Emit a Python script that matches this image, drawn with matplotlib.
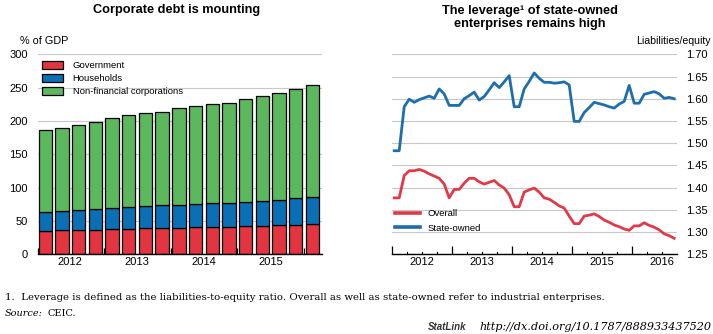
import matplotlib
matplotlib.use("Agg")
import matplotlib.pyplot as plt
from matplotlib.patches import Patch
from matplotlib.lines import Line2D
import numpy as np

plt.rcParams['font.family'] = ['Liberation Sans', 'DejaVu Sans']

# Left panel: debt by sector, % of GDP, quarterly 2012Q1-2016Q1
quarters = ['2012Q1', '2012Q2', '2012Q3', '2012Q4', '2013Q1', '2013Q2', '2013Q3', '2013Q4',
            '2014Q1', '2014Q2', '2014Q3', '2014Q4', '2015Q1', '2015Q2', '2015Q3', '2015Q4', '2016Q1']
government = [34.5, 36, 36, 36, 37.5, 37.5, 39, 39, 39, 40.5, 40.5, 40.5, 42, 42, 43.5, 43.5, 45]
households = [28.5, 29, 30.5, 32, 31.5, 33, 33, 34.5, 34.5, 35, 36.5, 36.5, 36.5, 38, 38, 40.5, 41]
nonfin_corps = [124, 125, 128, 131, 136, 139, 140.5, 140.5, 146.5, 147.5, 149, 150.5, 155, 158, 161, 164.5, 168.5]
left_years = ['2012', '2013', '2014', '2015']

# Right panel: liabilities/equity, monthly Jan 2012 - Sep 2016
overall = [1.377, 1.377, 1.427, 1.438, 1.438, 1.441, 1.437, 1.431, 1.426, 1.421, 1.408, 1.377,
           1.396, 1.396, 1.410, 1.421, 1.421, 1.413, 1.408, 1.412, 1.416, 1.406, 1.399, 1.384,
           1.357, 1.357, 1.390, 1.395, 1.399, 1.390, 1.377, 1.374, 1.367, 1.359, 1.354, 1.336,
           1.319, 1.319, 1.336, 1.338, 1.341, 1.335, 1.327, 1.322, 1.316, 1.312, 1.307, 1.304,
           1.314, 1.314, 1.321, 1.315, 1.311, 1.305, 1.296, 1.292, 1.286]
state_owned = [1.483, 1.483, 1.582, 1.599, 1.592, 1.598, 1.602, 1.606, 1.601, 1.622, 1.611, 1.585,
               1.585, 1.585, 1.600, 1.607, 1.615, 1.597, 1.605, 1.620, 1.636, 1.625, 1.638, 1.652,
               1.582, 1.582, 1.622, 1.639, 1.658, 1.646, 1.637, 1.637, 1.635, 1.636, 1.638, 1.631,
               1.549, 1.549, 1.569, 1.580, 1.592, 1.589, 1.586, 1.582, 1.579, 1.588, 1.594, 1.630,
               1.590, 1.590, 1.610, 1.613, 1.616, 1.611, 1.601, 1.603, 1.600]
right_years = ['2012', '2013', '2014', '2015', '2016']

RED = '#E3353F'
BLUE = '#0B6FB5'
GREEN = '#5CB85C'
LRED = '#E03A48'
LBLUE = '#1D6EAD'
GRID = '#C8C8C8'

W, H = 713, 334
fig = plt.figure(figsize=(W / 100, H / 100), dpi=100)


def px_axes(x0, y0, x1, y1):
    return fig.add_axes([x0 / W, 1 - y1 / H, (x1 - x0) / W, (y1 - y0) / H])


# ---- left panel ----
ax = px_axes(37.7, 54.3, 321.7, 254.3)
x = np.arange(len(quarters))
gov = np.array(government)
hh = np.array(households)
nfc = np.array(nonfin_corps)
ax.bar(x, gov, 0.8, color=RED, edgecolor='black', linewidth=0.9, zorder=3)
ax.bar(x, hh, 0.8, bottom=gov, color=BLUE, edgecolor='black', linewidth=0.9, zorder=3)
ax.bar(x, nfc, 0.8, bottom=gov + hh, color=GREEN, edgecolor='black', linewidth=0.9, zorder=3)
ax.set_xlim(-0.45, 16.55)
ax.set_ylim(0, 300)
ax.set_yticks(np.arange(0, 301, 50))
ax.grid(axis='y', color=GRID, linewidth=0.8, zorder=0)
for s in ['left', 'right', 'top']:
    ax.spines[s].set_visible(False)
ax.spines['bottom'].set_linewidth(1.0)
ax.spines['bottom'].set_zorder(4)
ax.set_xticks([-0.45, 3.5, 7.5, 11.5, 15.5])
ax.set_xticklabels([])
ax.set_xticks([1.5, 5.5, 9.5, 13.5], minor=True)
ax.set_xticklabels(left_years, minor=True)
ax.tick_params(axis='x', which='major', direction='in', length=4, width=0.9)
ax.tick_params(axis='x', which='minor', length=0, pad=2, labelsize=8)
ax.tick_params(axis='y', length=0, pad=7, labelsize=8)
handles = [Patch(facecolor=RED, edgecolor='black', linewidth=0.9),
           Patch(facecolor=BLUE, edgecolor='black', linewidth=0.9),
           Patch(facecolor=GREEN, edgecolor='black', linewidth=0.9)]
ax.legend(handles, ['Government', 'Households', 'Non-financial corporations'],
          loc='upper left', bbox_to_anchor=(0.0, 0.99), frameon=False, fontsize=6.8,
          handlelength=2.2, handleheight=1.0, labelspacing=0.35, handletextpad=1.0,
          borderaxespad=0.3, borderpad=0.2)

fig.text(177 / W, 1 - 10 / H, 'Corporate debt is mounting', ha='center', va='center',
         fontsize=9.2, fontweight='bold')
fig.text(20 / W, 1 - 40.5 / H, '% of GDP', ha='left', va='center', fontsize=7.8)

# ---- right panel ----
ax2 = px_axes(391.7, 54.3, 676.7, 254.3)
m = np.arange(len(overall))
ax2.plot(m, overall, color=LRED, linewidth=2.0, zorder=3)
ax2.plot(m, state_owned, color=LBLUE, linewidth=2.0, zorder=3)
ax2.set_xlim(-0.5, 56.5)
ax2.set_ylim(1.25, 1.70)
ax2.set_yticks(np.round(np.arange(1.25, 1.701, 0.05), 2))
ax2.set_yticklabels(['%.2f' % v for v in np.arange(1.25, 1.701, 0.05)])
ax2.yaxis.tick_right()
ax2.grid(axis='y', color=GRID, linewidth=0.8, zorder=0)
for s in ['left', 'right', 'top']:
    ax2.spines[s].set_visible(False)
ax2.spines['bottom'].set_linewidth(1.0)
ax2.spines['bottom'].set_zorder(4)
ax2.set_xticks([-0.5, 11.5, 23.5, 35.5, 47.5])
ax2.set_xticklabels([])
ax2.set_xticks([5.5, 17.5, 29.5, 41.5, 53.5], minor=True)
ax2.set_xticklabels(right_years, minor=True)
ax2.tick_params(axis='x', which='major', direction='in', length=6, width=0.9)
ax2.tick_params(axis='x', which='minor', length=0, pad=2, labelsize=8)
ax2.tick_params(axis='y', length=0, pad=7, labelsize=8)
qt = [q - 0.5 for q in range(3, 57, 3) if q % 12 != 0]
for q in qt:
    ax2.plot([q, q], [1.25, 1.256], color='black', linewidth=0.8, zorder=4, clip_on=False)
lh = [Line2D([0], [0], color=LRED, linewidth=2.6), Line2D([0], [0], color=LBLUE, linewidth=2.6)]
ax2.legend(lh, ['Overall', 'State-owned'], loc='lower left', bbox_to_anchor=(0.0, 0.09),
           frameon=False, fontsize=6.8, handlelength=2.6, labelspacing=0.55,
           handletextpad=0.8, borderaxespad=0.2, borderpad=0.2)

fig.text(530 / W, 1 - 17.5 / H, 'The leverage\u00b9 of state-owned\nenterprises remains high',
         ha='center', va='center', fontsize=9.2, fontweight='bold', linespacing=1.05)
fig.text(711 / W, 1 - 40.5 / H, 'Liabilities/equity', ha='right', va='center', fontsize=7.6)

# ---- notes ----
serif = ['DejaVu Serif']
fig.text(5 / W, 1 - 297 / H,
         '1.  Leverage is defined as the liabilities-to-equity ratio. Overall as well as state-owned refer to industrial enterprises.',
         ha='left', va='center', fontsize=7.25, family=serif)
src = fig.text(5 / W, 1 - 313 / H, 'Source:', ha='left', va='center', fontsize=7.0,
               family=serif, style='italic')
fig.canvas.draw()
bb = src.get_window_extent()
fig.text((bb.x1 + 5) / W, 1 - 313 / H, 'CEIC.', ha='left', va='center', fontsize=7.0,
         family=serif)
fig.text(428 / W, 1 - 327 / H, 'StatLink', ha='left', va='center', fontsize=7.0,
         fontweight='bold', style='italic', color='#333333')
fig.text(711 / W, 1 - 327 / H, 'http://dx.doi.org/10.1787/888933437520', ha='right',
         va='center', fontsize=8.1, family=serif, style='italic')

fig.savefig('out.png', dpi=100)
